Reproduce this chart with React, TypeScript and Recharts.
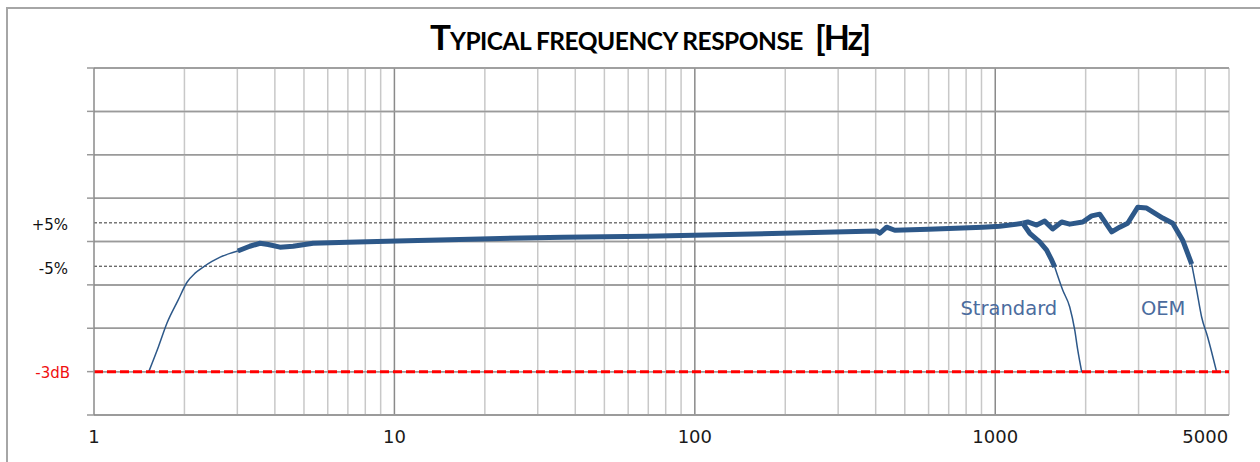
import { LineChart, Line, XAxis, YAxis, CartesianGrid, ReferenceLine, ReferenceDot } from "recharts";

// frequency (Hz) / relative response
const lowFreq = [1.52, 1.64, 1.75, 1.9, 2.04, 2.17, 2.31, 2.47, 2.63, 2.82, 3.01];
const lowResp = [0.706, 0.765, 0.819, 0.87, 0.913, 0.934, 0.948, 0.961, 0.971, 0.979, 0.985];

const flatFreq = [3.01, 3.3, 3.57, 3.8, 4.16, 4.6, 5.36, 7, 10.2, 19.3, 36.4, 69.2, 196, 403, 413, 435, 463, 600, 908, 1035, 1235];
const flatResp = [0.985, 0.996, 1.003, 1.0, 0.994, 0.996, 1.003, 1.005, 1.008, 1.013, 1.017, 1.019, 1.026, 1.031, 1.026, 1.04, 1.033, 1.035, 1.04, 1.042, 1.049];

const stdFreq = [1235, 1303, 1406, 1483, 1542, 1578];
const stdResp = [1.049, 1.026, 1.006, 0.987, 0.964, 0.948];
const stdTailFreq = [1578, 1677, 1770, 1839, 1882, 1941];
const stdTailResp = [0.948, 0.895, 0.856, 0.803, 0.757, 0.706];

const oemFreq = [1235, 1283, 1374, 1461, 1553, 1664, 1770, 1955, 2094, 2227, 2442, 2596, 2760, 2980, 3192, 3609, 3897, 4206, 4508];
const oemResp = [1.049, 1.052, 1.045, 1.054, 1.036, 1.052, 1.047, 1.052, 1.066, 1.07, 1.029, 1.04, 1.049, 1.086, 1.084, 1.061, 1.049, 1.01, 0.955];
const oemTailFreq = [4508, 4683, 4864, 5094, 5458];
const oemTailResp = [0.955, 0.895, 0.833, 0.787, 0.706];

const xTicks = [1, 10, 100, 1000, 5000];
const decades = [10, 100, 1000];
const minors = [2, 3, 4, 5, 6, 7, 8, 9, 20, 30, 40, 50, 60, 70, 80, 90, 200, 300, 400, 500, 600, 700, 800, 900, 2000, 3000, 4000, 5000, 6000];
const yGrid = [0.607, 0.707, 0.807, 0.907, 1.007, 1.107, 1.207, 1.307, 1.407];

const zip = (f: number[], v: number[]) => f.map((x, i) => ({ f: x, v: v[i] }));

const lowData = zip(lowFreq, lowResp);
const flatData = zip(flatFreq, flatResp);
const stdData = zip(stdFreq, stdResp);
const stdTailData = zip(stdTailFreq, stdTailResp);
const oemData = zip(oemFreq, oemResp);
const oemTailData = zip(oemTailFreq, oemTailResp);

const BLUE = "#2d5889";
const labelFont = { fontFamily: "DejaVu Sans", fontSize: 15 };

const NoTick = () => <g />;

export default function App() {
  return (
    <div style={{ position: "absolute", left: 0, top: 0, width: 1260, height: 462, background: "#fff", overflow: "hidden" }}>
      <div style={{ position: "absolute", left: 6, top: 7, width: 1300, height: 500, borderLeft: "2px solid #a6a6a6", borderTop: "2px solid #a6a6a6" }} />
      <LineChart width={1260} height={462} margin={{ top: 68, right: 31, bottom: 0, left: 0 }}>
        <CartesianGrid vertical={false} stroke="#9a9a9a" strokeWidth={1.5} />
        {minors.map((m) => (
          <ReferenceLine key={m} x={m} stroke="#c8c8c8" strokeWidth={1.5} />
        ))}
        {decades.map((d) => (
          <ReferenceLine key={d} x={d} stroke="#8a8a8a" strokeWidth={1.5} />
        ))}
        {yGrid.map((g) => (
          <ReferenceLine key={"h" + g} y={g} stroke="#9a9a9a" strokeWidth={1.5} />
        ))}
        <XAxis
          type="number"
          dataKey="f"
          scale="log"
          domain={[1, 6000]}
          allowDataOverflow
          ticks={xTicks}
          height={47}
          tickLine={false}
          tickSize={6}
          tickMargin={9}
          axisLine={{ stroke: "#9a9a9a", strokeWidth: 1.5 }}
          tick={{ fontFamily: "DejaVu Sans", fontSize: 18, fill: "#1a1a1a" }}
        />
        <YAxis
          type="number"
          domain={[0.607, 1.407]}
          allowDataOverflow
          ticks={yGrid}
          width={94}
          tick={NoTick}
          tickSize={7}
          tickLine={{ stroke: "#9a9a9a", strokeWidth: 1.5 }}
          axisLine={{ stroke: "#8a8a8a", strokeWidth: 1.5 }}
        />
        <ReferenceLine
          y={1.05}
          stroke="#333"
          strokeDasharray="3 2"
          label={{ value: "+5%", position: "left", offset: 26, dy: 2, fill: "#111", ...labelFont }}
        />
        <ReferenceLine
          y={0.95}
          stroke="#333"
          strokeDasharray="3 2"
          label={{ value: "-5%", position: "left", offset: 26, dy: 2, fill: "#111", ...labelFont }}
        />
        <Line data={lowData} dataKey="v" type="monotone" stroke={BLUE} strokeWidth={1.5} dot={false} activeDot={false} isAnimationActive={false} />
        <Line data={stdTailData} dataKey="v" type="monotone" stroke={BLUE} strokeWidth={1.5} dot={false} activeDot={false} isAnimationActive={false} />
        <Line data={oemTailData} dataKey="v" type="monotone" stroke={BLUE} strokeWidth={1.5} dot={false} activeDot={false} isAnimationActive={false} />
        <Line data={flatData} dataKey="v" type="linear" stroke={BLUE} strokeWidth={5} strokeLinejoin="round" dot={false} activeDot={false} isAnimationActive={false} />
        <Line data={stdData} dataKey="v" type="linear" stroke={BLUE} strokeWidth={5} strokeLinejoin="round" dot={false} activeDot={false} isAnimationActive={false} />
        <Line data={oemData} dataKey="v" type="linear" stroke={BLUE} strokeWidth={5} strokeLinejoin="round" dot={false} activeDot={false} isAnimationActive={false} />
        <ReferenceLine
          y={0.707}
          stroke="#ff0000"
          strokeWidth={3}
          strokeDasharray="9 4"
          label={{ value: "-3dB", position: "left", offset: 24, dy: 1, fill: "#f01010", ...labelFont }}
        />
        <ReferenceDot x={1110} y={0.853} r={1} fill="none" stroke="none"
          label={{ value: "Strandard", position: "center", fill: "#4b6c9e", fontFamily: "DejaVu Sans", fontSize: 19.5 }} />
        <ReferenceDot x={3622} y={0.853} r={1} fill="none" stroke="none"
          label={{ value: "OEM", position: "center", fill: "#4b6c9e", fontFamily: "DejaVu Sans", fontSize: 19.5 }} />
      </LineChart>
      <svg width={1260} height={70} style={{ position: "absolute", left: 0, top: 0, pointerEvents: "none" }}>
        <g fontFamily="Lato" fontWeight={700} fill="#000">
          <text x={430} y={50} fontSize={35}>T</text>
          <text x={450} y={50} fontSize={24.5} letterSpacing={-0.5}>YPICAL FREQUENCY RESPONSE</text>
          <text x={815} y={50} fontSize={34} letterSpacing={-2}>[Hz]</text>
        </g>
      </svg>
    </div>
  );
}
